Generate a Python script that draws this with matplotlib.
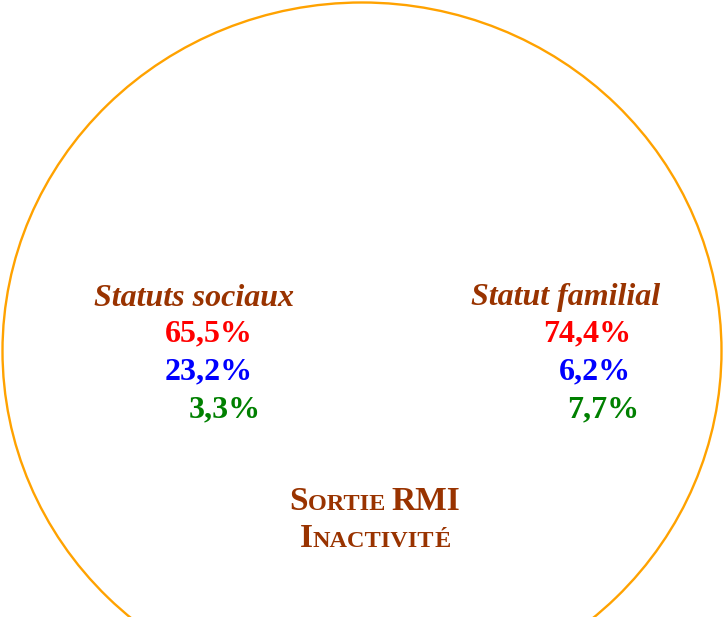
import matplotlib.pyplot as plt
from matplotlib.patches import Ellipse

# data
groups = ["Statuts sociaux", "Statut familial"]
sociaux = [65.5, 23.2, 3.3]
familial = [74.4, 6.2, 7.7]
value_colors = ["#ff0000", "#0000ff", "#008000"]
title_lines = [["S", "ORTIE ", "RMI"], ["I", "NACTIVIT", "É"]]

brown = "#993300"
plt.rcParams['font.family'] = ['Liberation Serif', 'DejaVu Serif']

fig = plt.figure(figsize=(7.25, 6.17), dpi=100)
ax = fig.add_axes([0, 0, 1, 1])
ax.set_xlim(0, 725)
ax.set_ylim(617, 0)
ax.axis('off')

# outer circle
e = Ellipse((362, 351), 719, 697, fill=False, edgecolor='#ffa200', lw=1.7)
ax.add_patch(e)

def fmt(v):
    return ("%.1f%%" % v).replace('.', ',')

fs = 23
rows_y = [334, 372, 410]

# left group
ax.text(194, 298, groups[0], color=brown, fontsize=fs, fontweight='bold',
        fontstyle='italic', ha='center', va='center')
left_x = [165, 165, 189]
for v, c, x, y in zip(sociaux, value_colors, left_x, rows_y):
    ax.text(x, y, fmt(v), color=c, fontsize=fs, fontweight='bold', ha='left', va='center')

# right group
ax.text(566, 298, groups[1], color=brown, fontsize=fs, fontweight='bold',
        fontstyle='italic', ha='center', va='center')
right_x = [543, 559, 567]
for v, c, x, y in zip(familial, value_colors, right_x, rows_y):
    ax.text(x, y, fmt(v), color=c, fontsize=fs, fontweight='bold', ha='left', va='center')

# small-caps title at the bottom
fig.canvas.draw()
r = fig.canvas.get_renderer()
for line, y in zip(title_lines, [510, 547]):
    sizes = [24, 17.5, 24] if line[0] == "S" else [24, 17.5, 17.5]
    parts = []
    for s, size in zip(line, sizes):
        parts.append(ax.text(0, y, s.upper(), color=brown, fontsize=size, fontweight='bold',
                             ha='left', va='baseline'))
    widths = [p.get_window_extent(r).width for p in parts]
    x = 375 - sum(widths) / 2
    for p, w in zip(parts, widths):
        p.set_x(x)
        x += w

fig.savefig("out.png", dpi=100, facecolor='white')
